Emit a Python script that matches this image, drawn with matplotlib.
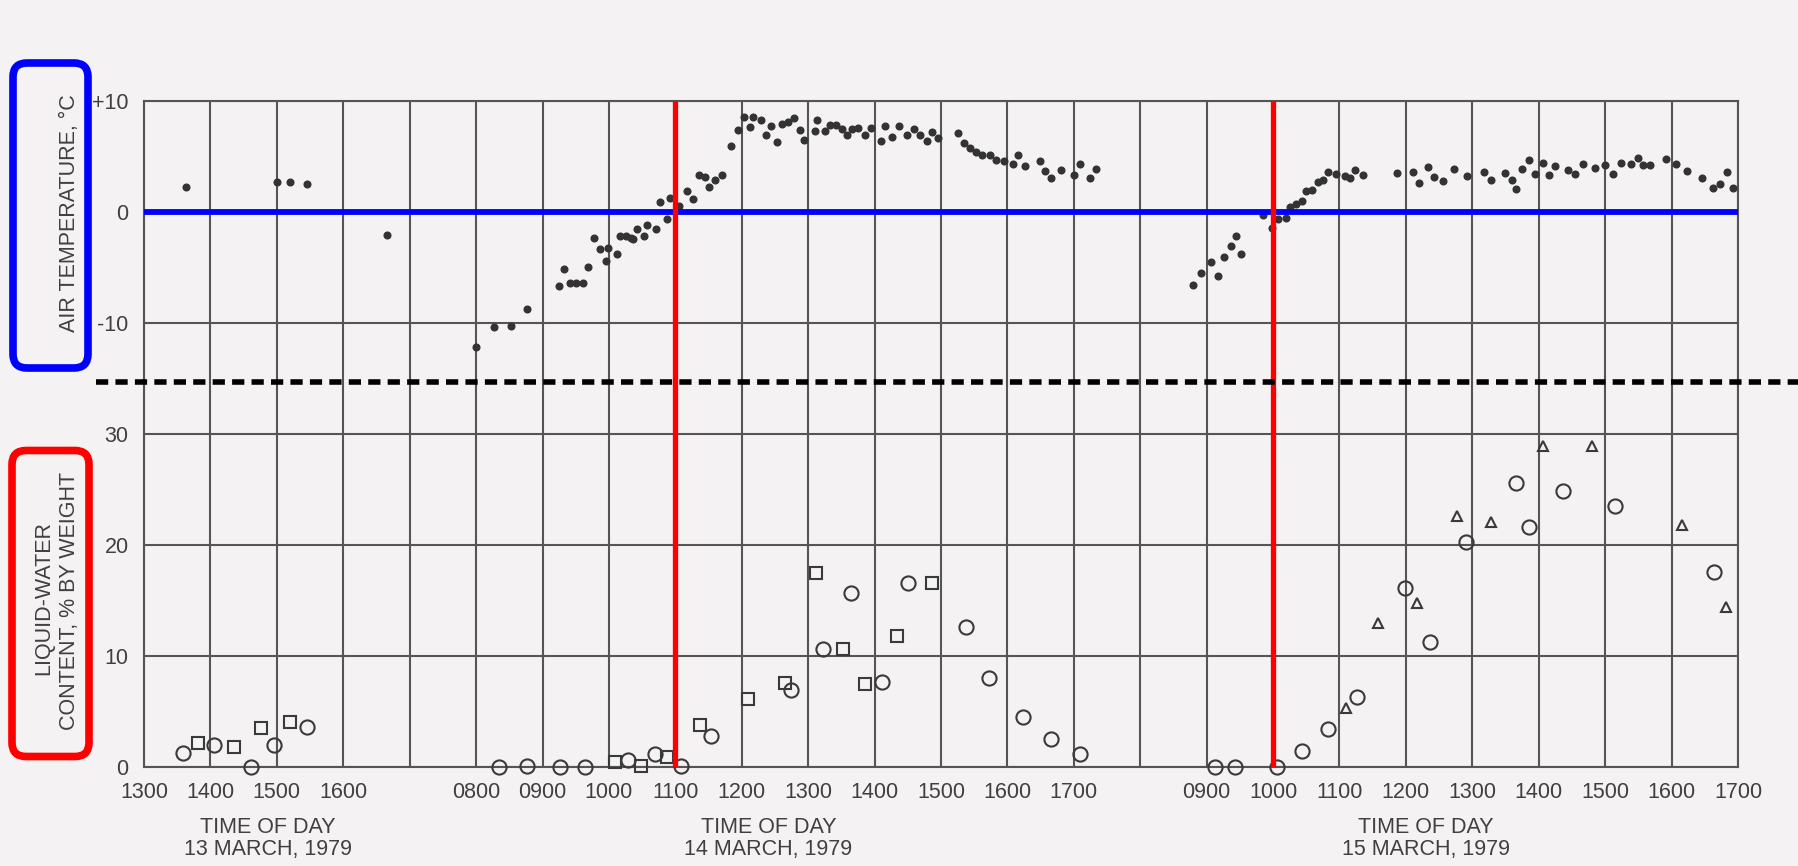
import numpy as np
import matplotlib.pyplot as plt
import matplotlib.transforms as mtransforms
from matplotlib.patches import FancyBboxPatch
from matplotlib.lines import Line2D

plt.rcParams['font.family'] = ['Liberation Sans', 'DejaVu Sans']

# air temperature, deg C, against hour of day (decimal hours)
t13_hr = [13.63, 15.00, 15.20, 15.45, 16.66]
t13_temp = [2.28, 2.7, 2.7, 2.5, -2.06]

t14_hr = [8.00, 8.27, 8.52, 8.77, 9.25, 9.33, 9.42, 9.51, 9.61, 9.69, 9.78, 9.86,
          9.95, 9.98, 10.12, 10.17, 10.25, 10.33, 10.37, 10.43, 10.53, 10.58, 10.71,
          10.77, 10.87, 10.92, 11.06, 11.17, 11.27, 11.35, 11.44, 11.50, 11.59, 11.70,
          11.84, 11.95, 12.03, 12.12, 12.17, 12.29, 12.36, 12.44, 12.53, 12.61, 12.69,
          12.79, 12.87, 12.94, 13.10, 13.14, 13.25, 13.33, 13.42, 13.51, 13.59, 13.66,
          13.75, 13.85, 13.94, 14.10, 14.16, 14.26, 14.37, 14.49, 14.59, 14.69, 14.79,
          14.87, 14.95, 15.25, 15.34, 15.43, 15.52, 15.61, 15.74, 15.83, 15.95, 16.08,
          16.16, 16.27, 16.49, 16.56, 16.66, 16.81, 17.01, 17.10, 17.25, 17.34]
t14_temp = [-12.15, -10.4, -10.25, -8.7, -6.67, -5.1, -6.4, -6.4, -6.4, -4.94, -2.3, -3.36,
            -4.42, -3.27, -3.75, -2.12, -2.2, -2.36, -2.42, -1.54, -2.15, -1.15, -1.51,
            0.88, -0.6, 1.27, 0.58, 1.88, 1.21, 3.3, 3.15, 2.27, 2.88, 3.3,
            5.91, 7.4, 8.55, 7.64, 8.6, 8.33, 6.94, 7.79, 6.27, 7.94, 8.15,
            8.48, 7.4, 6.49, 7.27, 8.25, 7.27, 7.85, 7.85, 7.48, 6.97, 7.48,
            7.58, 6.94, 7.58, 6.43, 7.73, 6.73, 7.73, 6.94, 7.48, 6.94, 6.43,
            7.18, 6.64, 7.12, 6.18, 5.76, 5.45, 5.15, 5.12, 4.67, 4.55, 4.3,
            5.15, 4.15, 4.55, 3.7, 3.03, 3.79, 3.33, 4.3, 3.09, 3.91]

t15_hr = [8.80, 8.92, 9.07, 9.17, 9.26, 9.36, 9.44, 9.51, 9.85, 9.98, 10.08, 10.20,
          10.25, 10.34, 10.44, 10.50, 10.58, 10.67, 10.75, 10.83, 10.94, 11.08, 11.16,
          11.24, 11.35, 11.87, 12.10, 12.20, 12.34, 12.42, 12.56, 12.72, 12.92, 13.17,
          13.28, 13.49, 13.59, 13.65, 13.75, 13.86, 13.95, 14.07, 14.16, 14.24, 14.44,
          14.55, 14.67, 14.85, 15.00, 15.12, 15.24, 15.39, 15.49, 15.57, 15.67, 15.91,
          16.06, 16.23, 16.46, 16.62, 16.73, 16.83, 16.92]
t15_temp = [-6.6, -5.48, -4.48, -5.75, -4.06, -3.06, -2.15, -3.79, -0.3, -1.45, -0.6, -0.55,
            0.43, 0.73, 0.97, 1.88, 1.94, 2.73, 2.85, 3.64, 3.43, 3.28, 3.03,
            3.82, 3.33, 3.55, 3.58, 2.64, 4.09, 3.15, 2.79, 3.91, 3.24, 3.64,
            2.88, 3.48, 2.88, 2.03, 3.85, 4.7, 3.45, 4.45, 3.3, 4.15, 3.79,
            3.4, 4.3, 4.0, 4.24, 3.4, 4.45, 4.36, 4.85, 4.24, 4.24, 4.76,
            4.3, 3.7, 3.03, 2.18, 2.48, 3.64, 2.12]

# liquid-water content, % by weight (circles, squares, triangles)
lw13_circ_hr = [13.59, 14.05, 14.61, 14.95, 15.45]
lw13_circ = [1.3, 1.95, 0.0, 1.95, 3.6]
lw13_sq_hr = [13.82, 14.35, 14.76, 15.20]
lw13_sq = [2.15, 1.8, 3.5, 4.05]

lw14_circ_hr = [8.34, 8.76, 9.26, 9.64, 10.28, 10.69, 11.09, 11.54, 12.74, 13.23, 13.65,
                14.11, 14.50, 15.38, 15.73, 16.24, 16.65, 17.09]
lw14_circ = [0.0, 0.1, 0.0, 0.0, 0.6, 1.15, 0.1, 2.8, 6.9, 10.6, 15.7,
             7.65, 16.6, 12.6, 8.0, 4.5, 2.55, 1.15]
lw14_sq_hr = [10.09, 10.48, 10.88, 11.37, 12.09, 12.65, 13.12, 13.52, 13.86, 14.34, 14.87]
lw14_sq = [0.45, 0.1, 0.9, 3.8, 6.1, 7.6, 17.5, 10.6, 7.5, 11.8, 16.55]

lw15_circ_hr = [9.12, 9.42, 10.06, 10.43, 10.83, 11.26, 11.98, 12.36, 12.90, 13.66, 13.85,
                14.37, 15.15, 16.64]
lw15_circ = [0.0, 0.0, 0.0, 1.4, 3.45, 6.3, 16.1, 11.3, 20.3, 25.6, 21.6, 24.85, 23.5, 17.6]
lw15_tri_hr = [11.10, 11.58, 12.16, 12.77, 13.28, 14.07, 14.80, 16.15, 16.82]
lw15_tri = [5.3, 13.0, 14.8, 22.6, 22.1, 28.9, 28.9, 21.8, 14.4]

tick_hours = {13: [13, 14, 15, 16], 14: list(range(8, 18)), 15: list(range(9, 18))}
day_names = {13: '13 MARCH, 1979', 14: '14 MARCH, 1979', 15: '15 MARCH, 1979'}
name_hour = {13: 14.86, 14: 12.4, 15: 12.3}
melt_marks = [(14, 11), (15, 10)]

# one unit per hour, with a blank hour between days
offset = {13: -13, 14: -3, 15: 7}


def xpos(day, hours):
    return np.asarray(hours, dtype=float) + offset[day]


ink = '#404040'
paper = '#f4f2f3'
rule = '#555555'

W, H = 1798, 866
fig = plt.figure(figsize=(W / 100, H / 100), dpi=100, facecolor=paper)
left, right, top, mid, bottom = 144, 1738, 101, 378.5, 767
ax_t = fig.add_axes([left / W, 1 - mid / H, (right - left) / W, (mid - top) / H])
ax_w = fig.add_axes([left / W, 1 - bottom / H, (right - left) / W, (bottom - mid) / H])

ticks, labels = [], []
for day, hrs in tick_hours.items():
    for h in hrs:
        ticks.append(float(xpos(day, h)))
        labels.append(f'{h:02d}00')
blank = [4.0, 15.0]

for ax in (ax_t, ax_w):
    ax.set_facecolor(paper)
    ax.set_xlim(0, 24)
    ax.set_xticks(ticks + blank)
    ax.grid(True, color=rule, lw=1.5)
    ax.set_axisbelow(True)
    ax.tick_params(length=0, pad=11, labelsize=15.5, labelcolor=ink)
    for s in ax.spines.values():
        s.set_color(rule)
        s.set_linewidth(1.5)

ax_t.spines['bottom'].set_visible(False)
ax_w.spines['top'].set_visible(False)
ax_t.set_xticklabels([''] * (len(ticks) + 2))
ax_w.set_xticklabels(labels + ['', ''])

ax_t.set_ylim(-15, 10)
ax_t.set_yticks([-10, 0, 10])
ax_t.set_yticklabels(['-10', '0', '+10'])
ax_w.set_ylim(0, 35)
ax_w.set_yticks([0, 10, 20, 30])
ax_w.set_yticklabels(['0', '10', '20', '30'])

dot = dict(ls='none', marker='o', ms=4.8, color='#333333', clip_on=False, zorder=3)
ax_t.plot(xpos(13, t13_hr), t13_temp, **dot)
ax_t.plot(xpos(14, t14_hr), t14_temp, **dot)
ax_t.plot(xpos(15, t15_hr), t15_temp, **dot)

hollow = dict(ls='none', mfc='none', mec='#3a3a3a', mew=1.5, clip_on=False, zorder=3)
ax_w.plot(xpos(13, lw13_circ_hr), lw13_circ, marker='o', ms=10.2, **hollow)
ax_w.plot(xpos(13, lw13_sq_hr), lw13_sq, marker='s', ms=8.4, **hollow)
ax_w.plot(xpos(14, lw14_circ_hr), lw14_circ, marker='o', ms=10.2, **hollow)
ax_w.plot(xpos(14, lw14_sq_hr), lw14_sq, marker='s', ms=8.4, **hollow)
ax_w.plot(xpos(15, lw15_circ_hr), lw15_circ, marker='o', ms=10.2, **hollow)
ax_w.plot(xpos(15, lw15_tri_hr), lw15_tri, marker='^', ms=7.8, **hollow)

# freezing line and the times the air went above 0
ax_t.axhline(0, color='#0000ff', lw=4.2, zorder=5)
for day, h in melt_marks:
    ax_t.axvline(float(xpos(day, h)), color='#ff0000', lw=3.8, zorder=5)
    ax_w.axvline(float(xpos(day, h)), color='#ff0000', lw=3.8, zorder=5)

# day captions under the time axis
tr = mtransforms.blended_transform_factory(ax_w.transData, ax_w.transAxes)
for day, name in day_names.items():
    x = float(xpos(day, name_hour[day]))
    ax_w.text(x, -0.157, 'TIME OF DAY', transform=tr, ha='center', va='center',
              fontsize=15.5, color=ink)
    ax_w.text(x, -0.2136, name, transform=tr, ha='center', va='center',
              fontsize=15.5, color=ink)

fig.text(69 / W, 1 - 213 / H, 'AIR TEMPERATURE, \u00b0C', rotation=90,
         ha='center', va='center', fontsize=15.5, color=ink)
fig.text(44 / W, 1 - 598 / H, 'LIQUID-WATER', rotation=90,
         ha='center', va='center', fontsize=15.5, color=ink)
fig.text(69 / W, 1 - 601 / H, 'CONTENT, % BY WEIGHT', rotation=90,
         ha='center', va='center', fontsize=15.5, color=ink)

# panel separator and label frames
fig.add_artist(Line2D([96 / W, 1.0], [1 - 381.7 / H] * 2, color='black', lw=4,
                      dashes=(2.2, 1.3)))
px = mtransforms.IdentityTransform()
fig.add_artist(FancyBboxPatch((13, H - 368), 75, 305,
                              boxstyle='round,pad=0,rounding_size=14',
                              fc='none', ec='#0000ff', lw=5.5, transform=px))
fig.add_artist(FancyBboxPatch((12, H - 756.5), 77, 306,
                              boxstyle='round,pad=0,rounding_size=14',
                              fc='none', ec='#ff0000', lw=5.5, transform=px))

fig.savefig('out.png', dpi=100, facecolor=paper)
